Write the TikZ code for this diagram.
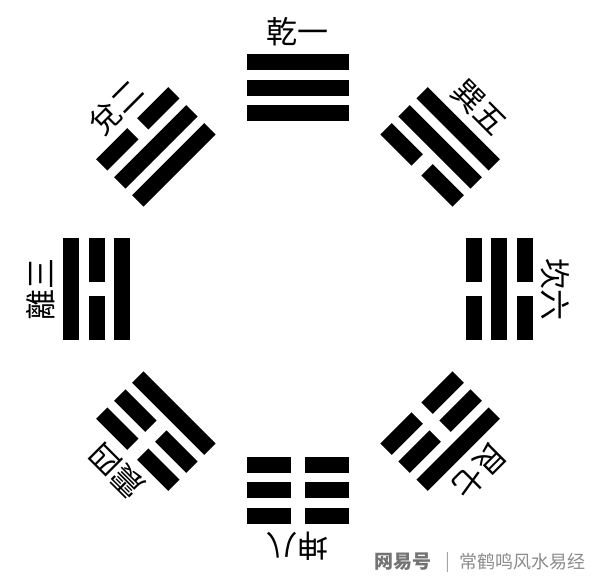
\documentclass[tikz,border=0pt]{standalone}
\usepackage{fontspec}
\newfontfamily\cjk{Noto Sans CJK SC}
\tikzset{
  yao/.style={fill=black},
  lbl/.style={font=\cjk\fontsize{31}{31}\selectfont, inner sep=0pt, text=black},
  wm/.style={font=\cjk\fontsize{18}{18}\selectfont, inner sep=0pt, text=black!45},
}
\newcommand\yaoline[2]{%
  \ifnum#2=1
    \fill[yao] (-51,{#1-8}) rectangle (51,{#1+8});
  \else
    \fill[yao] (-51,{#1-8}) rectangle (-7,{#1+8});
    \fill[yao] (7,{#1-8}) rectangle (51,{#1+8});
  \fi}
\begin{document}
\begin{tikzpicture}[x=1pt,y=1pt]
\useasboundingbox[fill=white] (-298,-287) rectangle (302,289);
\foreach \ang/\a/\b/\c/\txt/\nm in {
   90/1/1/1/乾一/qian,
  135/1/1/0/兌二/dui,
  180/1/0/1/離三/li,
  225/1/0/0/震四/zhen,
   45/0/1/1/巽五/xun,
    0/0/1/0/坎六/kan,
  315/0/0/1/艮七/gen,
  270/0/0/0/坤八/kun}{
  \begin{scope}[rotate=\ang-90]
    \yaoline{175.5}{\a}
    \yaoline{201}{\b}
    \yaoline{226.5}{\c}
  \end{scope}
  \node[lbl, rotate=\ang-90] (\nm) at (\ang:257) {\txt};
}
\node[wm, text=black!55, font=\cjk\bfseries\fontsize{19}{19}\selectfont] (wy) at (105,-273) {网易号};
\node[wm, text=black!35] (sep) at (150,-273) {|};
\node[wm] (author) at (224.5,-273) {常鹤鸣风水易经};
\end{tikzpicture}
\end{document}
